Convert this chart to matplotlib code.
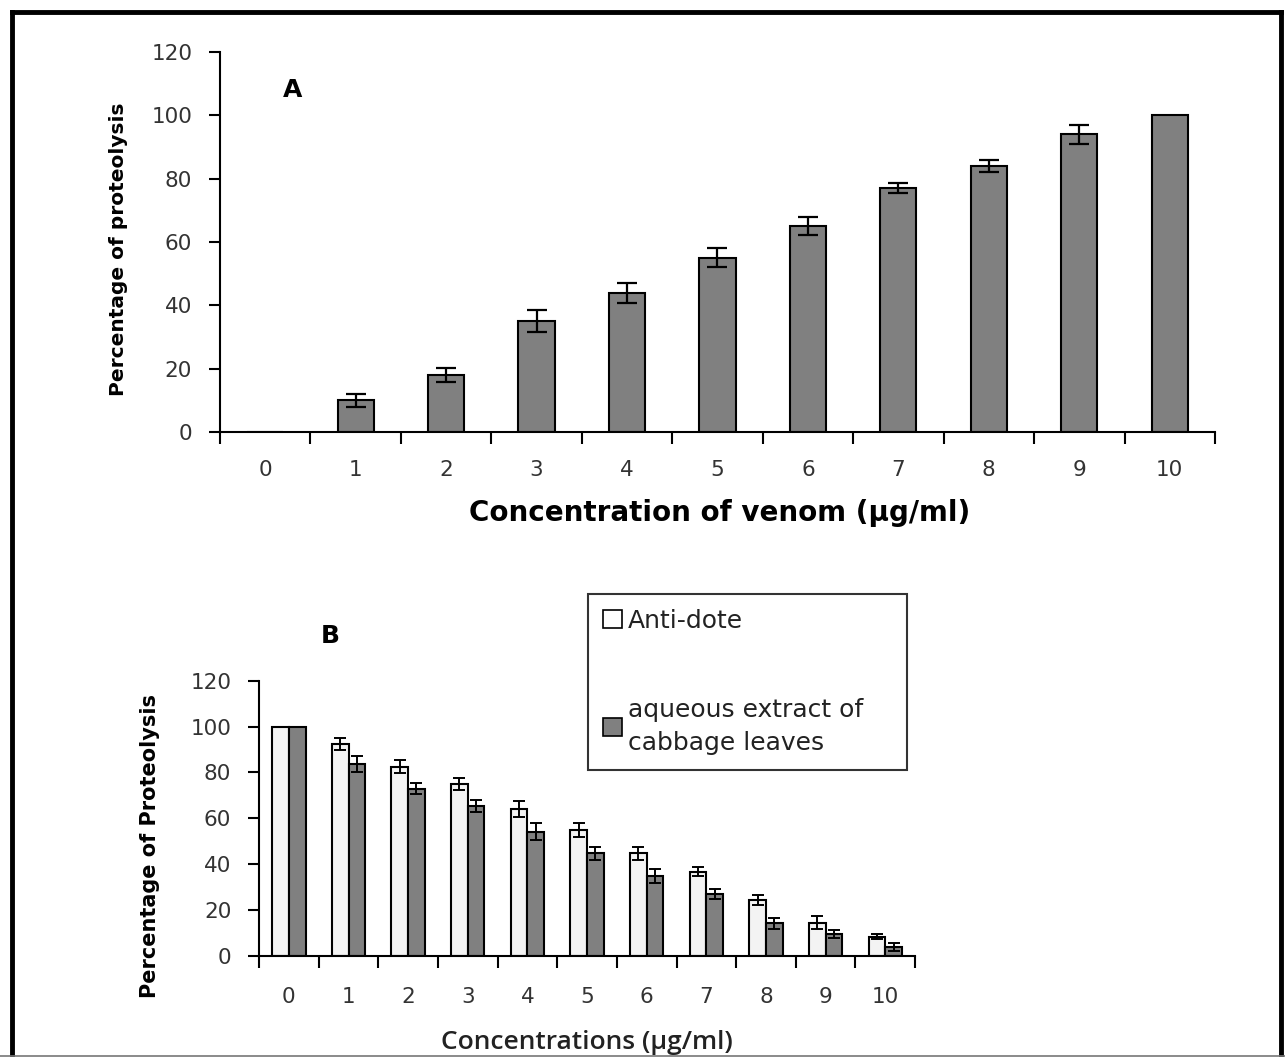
import matplotlib.pyplot as plt
from matplotlib.lines import Line2D
from matplotlib.patches import Patch
import numpy as np

# Panel A: venom concentration vs proteolysis
conc = [0, 1, 2, 3, 4, 5, 6, 7, 8, 9, 10]
venom_mean = [0, 10, 18, 35, 44, 55, 65, 77, 84, 94, 100]
venom_err = [0, 2, 2.3, 3.5, 3.2, 3, 2.8, 1.5, 1.8, 3, 0]

# Panel B: inhibition by anti-dote vs cabbage extract
antidote_mean = [100, 92.5, 82.5, 75, 64, 55, 44.7, 36.7, 24.4, 14.5, 8.4]
antidote_err = [0, 2.6, 2.8, 2.7, 3.6, 3, 3, 2, 2, 2.8, 1]
cabbage_mean = [100, 83.7, 73, 65.4, 54.2, 44.7, 34.9, 27, 14.2, 9.6, 3.8]
cabbage_err = [0, 3.5, 2.2, 2.6, 3.8, 3, 3, 2, 2.3, 1.8, 1.8]

GREY = '#808080'
WHITE = '#f3f3f3'
TICKC = '#333333'

fig = plt.figure(figsize=(12.85, 10.57), dpi=100)

x = np.arange(len(conc))


def style_axes(ax, tick_fs, ylen, xpad, ypad):
    for s in ['top', 'right']:
        ax.spines[s].set_visible(False)
    for s in ['left', 'bottom']:
        ax.spines[s].set_linewidth(1.5)
    ax.set_xlim(-0.5, len(conc) - 0.5)
    ax.set_ylim(0, 120)
    ax.set_yticks(np.arange(0, 121, 20))
    # major ticks between categories, labels on minor ticks at centres
    ax.set_xticks(np.arange(-0.5, len(conc), 1))
    ax.set_xticklabels([])
    ax.set_xticks(x, minor=True)
    ax.set_xticklabels([str(c) for c in conc], minor=True)
    ax.tick_params(axis='x', which='major', direction='out', length=8.5, width=1.5)
    ax.tick_params(axis='x', which='minor', length=0, pad=xpad,
                   labelsize=tick_fs, labelcolor=TICKC)
    ax.tick_params(axis='y', direction='out', length=ylen, width=1.5, pad=ypad,
                   labelsize=tick_fs, labelcolor=TICKC)


# ---- panel A ----
axA = fig.add_axes([0.1712, 0.5913, 0.7743, 0.3595])
axA.bar(x, venom_mean, 0.4, color=GREY, edgecolor='black', linewidth=1.5, zorder=2)
m = np.array(venom_err) > 0
axA.errorbar(x[m], np.array(venom_mean)[m], yerr=np.array(venom_err)[m], fmt='none',
             ecolor='black', elinewidth=1.6, capsize=7, capthick=1.6, zorder=3)
style_axes(axA, 15.5, 8, 20, 12)
axA.set_ylabel('Percentage of proteolysis', fontsize=14.5, fontweight='bold', va='center')
axA.yaxis.set_label_coords(-0.1025, 0.48)
axA.set_xlabel('Concentration of venom (µg/ml)', fontsize=20, fontweight='heavy', va='center')
axA.xaxis.set_label_coords(0.5025, -0.213)
axA.text(0.073, 0.9, 'A', transform=axA.transAxes, fontsize=18, fontweight='bold',
         ha='center', va='center')

# ---- panel B ----
axB = fig.add_axes([0.2016, 0.0956, 0.5105, 0.2604])
w = 0.28
axB.bar(x - w / 2, antidote_mean, w, color=WHITE, edgecolor='black', linewidth=1.5,
        zorder=2, label='Anti-dote')
axB.bar(x + w / 2, cabbage_mean, w, color=GREY, edgecolor='black', linewidth=1.5,
        zorder=2, label='aqueous extract of\ncabbage leaves')
ma = np.array(antidote_err) > 0
axB.errorbar(x[ma] - w / 2, np.array(antidote_mean)[ma], yerr=np.array(antidote_err)[ma],
             fmt='none', ecolor='black', elinewidth=1.4, capsize=4, capthick=1.4, zorder=3)
mc = np.array(cabbage_err) > 0
axB.errorbar(x[mc] + w / 2, np.array(cabbage_mean)[mc], yerr=np.array(cabbage_err)[mc],
             fmt='none', ecolor='black', elinewidth=1.4, capsize=4, capthick=1.4, zorder=3)
style_axes(axB, 15.5, 8, 22, 12)
axB.set_ylabel('Percentage of Proteolysis', fontsize=15, fontweight='bold', va='center')
axB.yaxis.set_label_coords(-0.166, 0.4)
axB.set_xlabel('Concentrations (µg/ml)', fontsize=19, fontweight='semibold',
               family='Open Sans', color='#222222', va='center')
axB.xaxis.set_label_coords(0.5, -0.316)
fig.text(330 / 1285, 1 - 636 / 1057, 'B', fontsize=18, fontweight='bold',
         ha='center', va='center')

handles = [Patch(facecolor='white', edgecolor='black', linewidth=1.2),
           Patch(facecolor=GREY, edgecolor='black', linewidth=1.2)]
leg = fig.legend(handles, ['Anti-dote', 'aqueous extract of\ncabbage leaves'],
                 loc='upper left',
                 bbox_to_anchor=(588 / 1285, 1 - 773 / 1057, 319 / 1285, 179 / 1057),
                 mode='expand', frameon=True, fancybox=False, edgecolor='black',
                 prop={'family': 'DejaVu Sans', 'size': 18},
                 handlelength=0.75, handleheight=0.75, handletextpad=0.25,
                 labelspacing=2.6, borderpad=0.6, borderaxespad=0)
leg.get_frame().set_linewidth(1.5)
for t in leg.get_texts():
    t.set_color('#222222')
    t.set_linespacing(1.45)

# outer frame of the figure
fig.add_artist(Line2D([12 / 1285, 12 / 1285], [0, 1 - 12 / 1057], color='black', lw=3.5,
                      transform=fig.transFigure))
fig.add_artist(Line2D([1281 / 1285, 1281 / 1285], [0, 1 - 12 / 1057], color='black', lw=3.5,
                      transform=fig.transFigure))
fig.add_artist(Line2D([12 / 1285, 1281 / 1285], [1 - 12 / 1057, 1 - 12 / 1057], color='black',
                      lw=3.5, transform=fig.transFigure))
fig.add_artist(Line2D([0, 1], [1 / 1057, 1 / 1057], color='#777777', lw=1.2,
                      transform=fig.transFigure))

fig.savefig('out.png', dpi=100)
